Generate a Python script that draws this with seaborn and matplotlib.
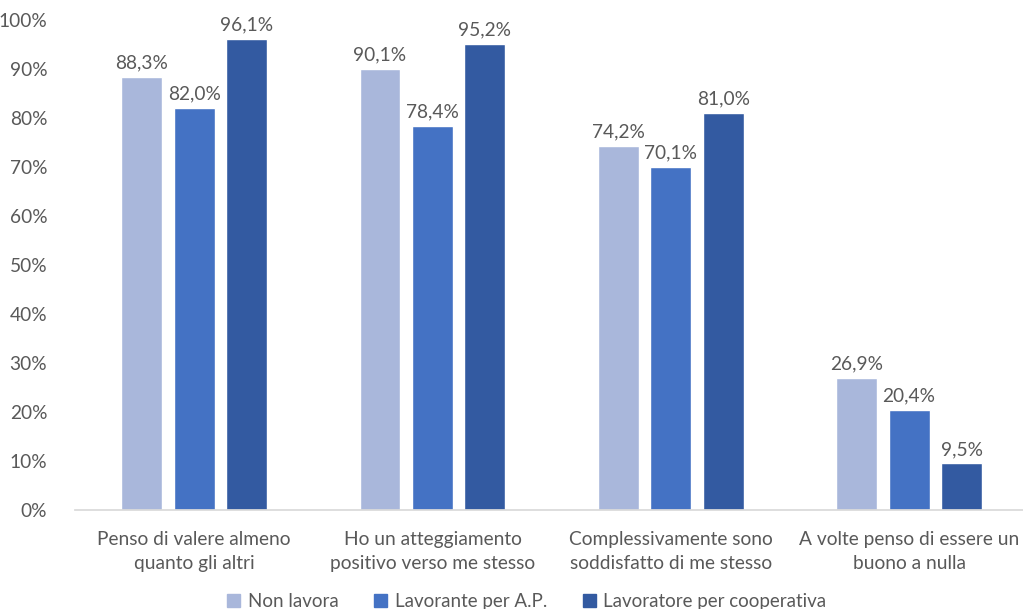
import matplotlib
matplotlib.use('Agg')
import matplotlib.pyplot as plt
import seaborn as sns
import pandas as pd
from matplotlib.ticker import PercentFormatter

categories = [
    "Penso di valere almeno\nquanto gli altri",
    "Ho un atteggiamento\npositivo verso me stesso",
    "Complessivamente sono\nsoddisfatto di me stesso",
    "A volte penso di essere un\nbuono a nulla",
]
groups = ["Non lavora", "Lavorante per A.P.", "Lavoratore per cooperativa"]
non_lavora = [88.3, 90.1, 74.2, 26.9]
lavorante_ap = [82.0, 78.4, 70.1, 20.4]
cooperativa = [96.1, 95.2, 81.0, 9.5]
colors = ["#A9B7DB", "#4472C4", "#335AA1"]

rows = []
for grp, vals in zip(groups, [non_lavora, lavorante_ap, cooperativa]):
    for cat, v in zip(categories, vals):
        rows.append({"cat": cat, "group": grp, "value": v})
df = pd.DataFrame(rows)

sns.set_theme(style="white")
plt.rcParams['font.family'] = ['Lato', 'DejaVu Sans']
text_color = "#595959"
fs = 13.8

fig = plt.figure(figsize=(10.23, 6.09), dpi=100)
ax = fig.add_axes([75 / 1023, 99 / 609, 948 / 1023, 490 / 609])

sns.barplot(data=df, x="cat", y="value", hue="group", palette=colors,
            saturation=1, width=0.66, gap=0.22, ax=ax, legend=False)

for container in ax.containers:
    ax.bar_label(container, labels=[f"{v:.1f}%".replace(".", ",") for v in container.datavalues],
                 padding=4, fontsize=fs, color=text_color)

ax.set_ylim(0, 100)
ax.set_yticks(range(0, 101, 10))
ax.yaxis.set_major_formatter(PercentFormatter(decimals=0))
ax.set_xlim(-0.5, 3.478)
ax.set_xlabel("")
ax.set_ylabel("")
ax.tick_params(axis='both', length=0, labelsize=fs, colors=text_color)
ax.tick_params(axis='y', pad=20)
ax.tick_params(axis='x', pad=15)
for lbl in ax.get_xticklabels():
    lbl.set_linespacing(1.5)

for s in ["top", "right", "left"]:
    ax.spines[s].set_visible(False)
ax.spines["bottom"].set_color("#D9D9D9")

handles = [plt.Rectangle((0, 0), 1, 1, color=c) for c in colors]
fig.legend(handles, groups, loc="lower center", ncol=3, frameon=False,
           bbox_to_anchor=(0.515, -0.03), fontsize=13.5, labelcolor=text_color,
           handlelength=0.7, handleheight=0.7, handletextpad=0.4, columnspacing=1.9)

fig.savefig("out.png", dpi=100)
